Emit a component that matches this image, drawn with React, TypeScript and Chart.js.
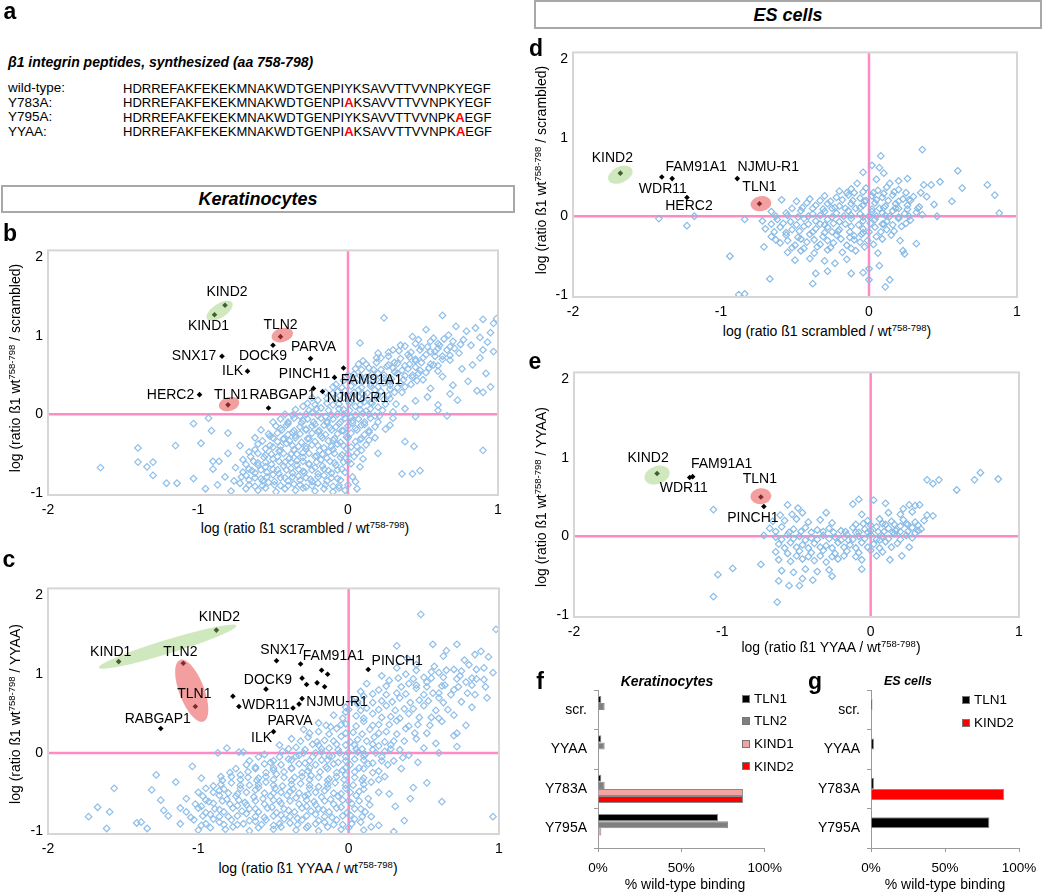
import React, { useEffect, useRef } from 'react';
import { Chart, registerables } from 'chart.js';
Chart.register(...registerables);

const FONT = '"Liberation Sans", Arial, Helvetica, sans-serif';
const PINK = '#ff8ac4';
const BLUE_K = '#8fbfea';
const BLUE_ES = '#88bbe6';
const GREEN_FILL = 'rgba(150,205,110,0.45)';
const RED_FILL = 'rgba(235,80,80,0.55)';

// ---------------- panel a ----------------
const peptideNames = ['wild-type:', 'Y783A:', 'Y795A:', 'YYAA:'];
const peptideSeqs = [
  'HDRREFAKFEKEKMNAKWDTGENPIYKSAVVTTVVNPKYEGF',
  'HDRREFAKFEKEKMNAKWDTGENPIAKSAVVTTVVNPKYEGF',
  'HDRREFAKFEKEKMNAKWDTGENPIYKSAVVTTVVNPKAEGF',
  'HDRREFAKFEKEKMNAKWDTGENPIAKSAVVTTVVNPKAEGF',
];
const mutatedPositions = [[], [25], [38], [25, 38]];

// ---------------- panel b (keratinocytes, wt/scrambled) ----------------
const bNames = ['KIND2', 'KIND1', 'TLN2', 'DOCK9', 'PARVA', 'SNX17', 'ILK', 'FAM91A1', 'PINCH1', 'HERC2', 'TLN1', 'RABGAP1', 'NJMU-R1', ''];
const bX = [-0.82, -0.89, -0.45, -0.5, -0.25, -0.84, -0.67, -0.03, -0.09, -0.99, -0.8, -0.53, -0.17, -0.23];
const bY = [1.39, 1.27, 0.99, 0.88, 0.71, 0.74, 0.55, 0.59, 0.47, 0.25, 0.12, 0.08, 0.29, 0.33];
const bCloud = [
  [0.24, 1.23], [0.63, 1.26], [0.9, 1.21], [0.99, 1.22], [0.97, 1.16],
  [0.52, 1.08], [0.72, 1.12], [0.79, 1.06], [0.85, 1.1], [0.95, 1.04],
  [0.43, 0.99], [0.57, 0.97], [0.67, 1.01], [0.77, 0.95], [0.88, 0.98], [0.93, 0.92],
  [0.08, 0.91], [0.35, 0.88], [0.49, 0.86], [0.6, 0.9], [0.71, 0.84], [0.82, 0.88], [0.9, 0.82],
  [0.2, 0.78], [0.3, 0.82], [0.4, 0.76], [0.55, 0.8], [0.63, 0.74], [0.74, 0.78], [0.88, 0.72], [0.97, 0.8],
  [0.1, 0.68], [0.22, 0.72], [0.31, 0.66], [0.45, 0.7], [0.55, 0.64], [0.68, 0.69], [0.83, 0.63],
  [0.07, 0.64], [0.05, 0.58], [0.17, 0.57], [0.26, 0.61], [0.36, 0.56], [0.45, 0.6], [0.6, 0.55], [0.76, 0.58], [0.92, 0.52],
  [0.0, 0.5], [0.12, 0.47], [0.2, 0.52], [0.29, 0.45], [0.38, 0.49], [0.5, 0.44], [0.63, 0.48], [0.8, 0.42],
  [-0.08, 0.38], [0.05, 0.41], [0.15, 0.36], [0.24, 0.4], [0.33, 0.34], [0.42, 0.38], [0.55, 0.33], [0.7, 0.37], [0.86, 0.3], [0.95, 0.35], [0.9, 0.28],
  [-0.15, 0.28], [-0.02, 0.3], [0.1, 0.26], [0.18, 0.31], [0.27, 0.24], [0.36, 0.28], [0.53, 0.22], [0.68, 0.26],
  [-0.2, 0.18], [-0.08, 0.2], [0.02, 0.16], [0.07, 0.22], [0.15, 0.15], [0.24, 0.19], [0.32, 0.13], [0.45, 0.17], [0.6, 0.12],
  [-0.3, 0.1], [-0.18, 0.08], [-0.1, 0.12], [-0.03, 0.06], [0.05, 0.1], [0.12, 0.04], [0.2, 0.09], [0.3, 0.03], [0.38, 0.07],
  [-0.42, 0.0], [-0.32, -0.02], [-0.24, 0.02], [-0.15, -0.03], [-0.07, 0.0], [0.02, -0.04], [0.1, 0.01], [0.18, -0.02], [0.3, -0.05], [0.45, -0.03],
  [-0.5, -0.1], [-0.4, -0.12], [-0.3, -0.08], [-0.22, -0.13], [-0.14, -0.09], [-0.06, -0.12], [0.03, -0.08], [0.11, -0.13], [0.2, -0.1], [0.28, -0.14],
  [-0.58, -0.2], [-0.45, -0.18], [-0.37, -0.23], [-0.28, -0.19], [-0.2, -0.22], [-0.12, -0.17], [-0.04, -0.21], [0.05, -0.18], [0.14, -0.23], [0.25, -0.19],
  [-0.62, -0.3], [-0.52, -0.28], [-0.43, -0.32], [-0.35, -0.27], [-0.27, -0.31], [-0.18, -0.28], [-0.1, -0.33], [-0.01, -0.29], [0.08, -0.32], [0.18, -0.3], [0.38, -0.35],
  [-0.72, -0.4], [-0.6, -0.38], [-0.5, -0.42], [-0.41, -0.37], [-0.33, -0.41], [-0.24, -0.39], [-0.16, -0.43], [-0.07, -0.38], [0.02, -0.42], [0.12, -0.39], [0.44, -0.41],
  [-0.8, -0.5], [-0.66, -0.48], [-0.55, -0.52], [-0.46, -0.47], [-0.38, -0.51], [-0.3, -0.49], [-0.21, -0.53], [-0.13, -0.48], [-0.04, -0.52], [0.06, -0.49], [0.2, -0.5],
  [-0.86, -0.6], [-0.7, -0.58], [-0.6, -0.62], [-0.5, -0.57], [-0.42, -0.61], [-0.34, -0.59], [-0.26, -0.63], [-0.18, -0.58], [-0.09, -0.62], [0.0, -0.6], [0.1, -0.57],
  [-0.9, -0.7], [-0.75, -0.68], [-0.64, -0.72], [-0.55, -0.67], [-0.47, -0.71], [-0.38, -0.69], [-0.3, -0.73], [-0.22, -0.68], [-0.13, -0.72], [-0.04, -0.7], [0.08, -0.67], [0.36, -0.76], [0.48, -0.72],
  [-0.82, -0.8], [-0.68, -0.78], [-0.58, -0.82], [-0.5, -0.77], [-0.42, -0.81], [-0.33, -0.79], [-0.25, -0.83], [-0.16, -0.78], [-0.07, -0.82], [0.03, -0.8], [0.43, -0.76],
  [-0.87, -0.9], [-0.72, -0.88], [-0.62, -0.92], [-0.53, -0.87], [-0.45, -0.91], [-0.36, -0.89], [-0.28, -0.93], [-0.2, -0.88], [-0.1, -0.92], [0.0, -0.9],
  [-0.78, -0.98], [-0.6, -0.97], [-0.48, -0.99], [-0.35, -0.97], [-0.22, -0.98], [-0.1, -0.99], [-0.02, -0.97],
  [-1.65, -0.68], [-1.4, -0.43], [-1.4, -0.61], [-1.34, -0.67], [-1.3, -0.61], [-1.3, -0.78], [-1.21, -0.88], [-1.15, -0.4],
  [-1.14, -0.88], [-1.03, -0.82], [-1.03, -0.12], [-0.98, -0.37], [-0.93, -0.05], [-0.91, -0.21], [-0.8, -0.24], [-0.95, -0.95], [-0.9, -0.6],
  [0.9, -0.46], [0.6, 0.05], [0.73, 0.18], [0.66, -0.02],
];
const bCore = [
  [0.47, 0.95], [0.55, 0.93], [0.64, 0.96], [0.7, 0.93],
  [0.38, 0.87], [0.45, 0.9], [0.53, 0.86], [0.61, 0.88], [0.68, 0.86], [0.75, 0.89],
  [0.27, 0.79], [0.34, 0.81], [0.42, 0.79], [0.48, 0.82], [0.58, 0.8], [0.66, 0.82],
  [0.19, 0.72], [0.27, 0.74], [0.35, 0.71], [0.41, 0.73], [0.5, 0.72], [0.58, 0.74], [0.63, 0.7],
  [0.12, 0.64], [0.19, 0.66], [0.27, 0.63], [0.33, 0.65], [0.41, 0.64], [0.49, 0.66], [0.57, 0.63],
  [0.09, 0.57], [0.14, 0.59], [0.22, 0.57], [0.3, 0.59], [0.4, 0.58], [0.48, 0.56], [0.54, 0.59],
  [0.04, 0.51], [0.08, 0.49], [0.16, 0.51], [0.24, 0.5], [0.33, 0.52], [0.43, 0.5], [0.47, 0.52],
  [-0.03, 0.43], [0.02, 0.44], [0.1, 0.42], [0.19, 0.44], [0.28, 0.42], [0.37, 0.44], [0.46, 0.43],
  [-0.1, 0.35], [-0.04, 0.34], [0.02, 0.36], [0.09, 0.34], [0.2, 0.35], [0.28, 0.37], [0.38, 0.35],
  [-0.1, 0.27], [-0.07, 0.29], [0.04, 0.28], [0.13, 0.27], [0.22, 0.29], [0.31, 0.28],
  [-0.24, 0.21], [-0.14, 0.2], [-0.03, 0.21], [0.1, 0.2], [0.19, 0.21], [0.28, 0.2],
  [-0.27, 0.14], [-0.22, 0.12], [-0.14, 0.14], [-0.06, 0.13], [0.01, 0.14], [0.08, 0.12], [0.16, 0.14], [0.25, 0.13],
  [-0.35, 0.06], [-0.26, 0.05], [-0.21, 0.07], [-0.13, 0.05], [-0.06, 0.07], [0.01, 0.05], [0.08, 0.06], [0.15, 0.07], [0.23, 0.05],
  [-0.37, -0.01], [-0.28, 0.0], [-0.2, -0.02], [-0.11, -0.01], [-0.03, 0.0], [0.05, -0.01], [0.14, 0.0], [0.21, -0.02],
  [-0.45, -0.06], [-0.36, -0.05], [-0.27, -0.06], [-0.18, -0.05], [-0.1, -0.06], [-0.02, -0.05], [0.07, -0.06], [0.15, -0.05],
  [-0.48, -0.15], [-0.41, -0.14], [-0.32, -0.16], [-0.24, -0.15], [-0.16, -0.14], [-0.08, -0.16], [0.0, -0.15], [0.09, -0.14], [0.18, -0.16],
  [-0.53, -0.25], [-0.47, -0.24], [-0.4, -0.26], [-0.32, -0.25], [-0.24, -0.24], [-0.15, -0.26], [-0.07, -0.25], [0.02, -0.24], [0.11, -0.26],
  [-0.57, -0.34], [-0.47, -0.35], [-0.39, -0.34], [-0.31, -0.36], [-0.22, -0.35], [-0.13, -0.34], [-0.05, -0.36], [0.05, -0.35], [0.14, -0.33],
  [-0.62, -0.45], [-0.55, -0.44], [-0.45, -0.46], [-0.36, -0.45], [-0.28, -0.44], [-0.19, -0.46], [-0.1, -0.45], [-0.01, -0.44], [0.09, -0.46],
  [-0.65, -0.54], [-0.56, -0.55], [-0.47, -0.54], [-0.39, -0.56], [-0.3, -0.55], [-0.22, -0.54], [-0.14, -0.56], [-0.05, -0.55], [0.04, -0.54],
  [-0.68, -0.64], [-0.6, -0.65], [-0.51, -0.64], [-0.43, -0.66], [-0.34, -0.65], [-0.26, -0.64], [-0.17, -0.66], [-0.08, -0.65], [0.02, -0.63],
  [-0.7, -0.74], [-0.62, -0.75], [-0.54, -0.74], [-0.46, -0.76], [-0.37, -0.75], [-0.29, -0.74], [-0.2, -0.76], [-0.11, -0.75], [-0.02, -0.74],
  [-0.76, -0.85], [-0.66, -0.84], [-0.57, -0.85], [-0.49, -0.86], [-0.4, -0.85], [-0.32, -0.84], [-0.24, -0.86], [-0.14, -0.85], [-0.05, -0.84], [0.05, -0.86],
  [-0.68, -0.95], [-0.55, -0.94], [-0.42, -0.95], [-0.3, -0.94], [-0.16, -0.95], [-0.06, -0.94], [0.06, -0.95],
];
const bDense = [
  [-0.4, -0.1], [-0.31, -0.11], [-0.23, -0.1], [-0.14, -0.11], [-0.05, -0.1], [0.03, -0.11], [0.11, -0.1],
  [-0.44, -0.2], [-0.36, -0.21], [-0.28, -0.2], [-0.19, -0.21], [-0.11, -0.2], [-0.03, -0.21], [0.06, -0.2], [0.14, -0.21],
  [-0.5, -0.3], [-0.43, -0.31], [-0.35, -0.3], [-0.26, -0.31], [-0.17, -0.3], [-0.09, -0.31], [0.0, -0.3], [0.09, -0.31],
  [-0.52, -0.4], [-0.45, -0.41], [-0.37, -0.4], [-0.28, -0.41], [-0.2, -0.4], [-0.11, -0.41], [-0.03, -0.4], [0.06, -0.41],
  [-0.6, -0.5], [-0.51, -0.51], [-0.43, -0.5], [-0.34, -0.51], [-0.26, -0.5], [-0.17, -0.51], [-0.09, -0.5], [0.0, -0.51],
  [-0.63, -0.6], [-0.55, -0.61], [-0.46, -0.6], [-0.38, -0.61], [-0.3, -0.6], [-0.21, -0.61], [-0.12, -0.6], [-0.03, -0.61],
  [-0.66, -0.7], [-0.58, -0.71], [-0.5, -0.7], [-0.41, -0.71], [-0.33, -0.7], [-0.24, -0.71], [-0.16, -0.7], [-0.07, -0.71],
  [-0.71, -0.8], [-0.62, -0.81], [-0.54, -0.8], [-0.45, -0.81], [-0.37, -0.8], [-0.28, -0.81], [-0.2, -0.8], [-0.11, -0.81],
  [-0.66, -0.9], [-0.57, -0.91], [-0.49, -0.9], [-0.4, -0.91], [-0.32, -0.9], [-0.24, -0.91], [-0.15, -0.9], [-0.06, -0.91],
  [0.0, 0.24], [0.07, 0.31], [0.15, 0.39], [0.24, 0.46], [0.31, 0.54], [0.38, 0.62], [0.45, 0.68], [0.52, 0.76], [0.6, 0.84],
  [0.11, 0.16], [0.2, 0.24], [0.28, 0.32], [0.35, 0.4], [0.43, 0.47], [0.52, 0.53], [0.6, 0.62], [0.68, 0.75],
];

// ---------------- panel c (keratinocytes, wt/YYAA) ----------------
const cNames = ['KIND2', 'KIND1', 'TLN2', 'TLN1', 'RABGAP1', 'SNX17', 'FAM91A1', 'PINCH1', 'DOCK9', 'WDR11', 'NJMU-R1', 'PARVA', 'ILK', '', '', '', '', '', '', '', ''];
const cX = [-0.88, -1.53, -1.1, -1.02, -1.25, -0.48, -0.32, 0.13, -0.55, -0.73, -0.31, -0.37, -0.5, -0.18, -0.14, -0.31, -0.28, -0.21, -0.16, -0.77, -0.33];
const cY = [1.56, 1.16, 1.14, 0.59, 0.31, 1.17, 1.13, 1.06, 0.81, 0.59, 0.69, 0.57, 0.27, 1.05, 1.0, 0.95, 0.87, 0.89, 0.84, 0.72, 0.62];
const cCloud = [
  [0.98, 1.57], [0.48, 1.76],
  [0.32, 1.36], [0.56, 1.38], [0.72, 1.38], [0.88, 1.29], [0.65, 1.3],
  [0.39, 1.2], [0.63, 1.23], [0.77, 1.18], [0.84, 1.25], [0.93, 1.22],
  [0.32, 1.08], [0.45, 1.12], [0.57, 1.1], [0.7, 1.06], [0.8, 1.12], [0.9, 1.08],
  [0.22, 0.98], [0.38, 1.0], [0.5, 0.96], [0.6, 1.02], [0.74, 0.98], [0.85, 0.94], [0.96, 1.02],
  [0.12, 0.88], [0.27, 0.92], [0.4, 0.88], [0.52, 0.9], [0.64, 0.86], [0.78, 0.9], [0.91, 0.84],
  [0.08, 0.78], [0.2, 0.8], [0.32, 0.76], [0.45, 0.82], [0.56, 0.76], [0.7, 0.8], [0.84, 0.74],
  [0.02, 0.68], [0.1, 0.72], [0.22, 0.66], [0.34, 0.7], [0.47, 0.67], [0.6, 0.7], [0.75, 0.65], [0.92, 0.7],
  [-0.02, 0.58], [0.06, 0.62], [0.12, 0.57], [0.25, 0.6], [0.37, 0.56], [0.5, 0.6], [0.66, 0.55], [0.82, 0.58],
  [-0.1, 0.48], [-0.02, 0.52], [0.05, 0.47], [0.16, 0.5], [0.28, 0.46], [0.4, 0.5], [0.55, 0.45], [0.7, 0.48],
  [-0.2, 0.38], [-0.12, 0.33], [-0.02, 0.37], [0.1, 0.4], [0.2, 0.36], [0.32, 0.41], [0.46, 0.36], [0.62, 0.4], [0.78, 0.35],
  [-0.3, 0.3], [-0.2, 0.27], [-0.08, 0.31], [0.03, 0.26], [0.14, 0.3], [0.25, 0.27], [0.38, 0.31], [0.52, 0.25], [0.7, 0.22], [0.72, 0.25],
  [-0.38, 0.18], [-0.27, 0.2], [-0.16, 0.16], [-0.05, 0.21], [0.06, 0.17], [0.17, 0.2], [0.3, 0.15], [0.45, 0.18], [0.58, 0.12],
  [-0.46, 0.1], [-0.35, 0.07], [-0.24, 0.11], [-0.13, 0.06], [-0.02, 0.1], [0.09, 0.05], [0.2, 0.09], [0.34, 0.04], [0.5, 0.06], [0.72, 0.08],
  [-0.7, 0.01], [-0.56, -0.02], [-0.44, 0.02], [-0.33, -0.03], [-0.22, 0.0], [-0.11, -0.04], [0.0, 0.01], [0.11, -0.02], [0.24, 0.02], [0.4, -0.03], [0.6, 0.0],
  [-0.81, 0.06], [-0.87, 0.0], [-0.66, -0.1], [-0.52, -0.12], [-0.4, -0.08], [-0.29, -0.13], [-0.18, -0.09], [-0.07, -0.12], [0.04, -0.08], [0.16, -0.13], [0.3, -0.1], [0.46, -0.12],
  [-1.04, -0.17], [-0.75, -0.2], [-0.62, -0.18], [-0.5, -0.22], [-0.38, -0.19], [-0.27, -0.23], [-0.15, -0.18], [-0.04, -0.22], [0.07, -0.19], [0.2, -0.23], [0.35, -0.2],
  [-0.98, -0.32], [-0.85, -0.3], [-0.72, -0.28], [-0.6, -0.32], [-0.48, -0.27], [-0.36, -0.31], [-0.25, -0.29], [-0.13, -0.33], [-0.02, -0.28], [0.1, -0.32], [0.24, -0.3],
  [-1.15, -0.37], [-0.9, -0.42], [-0.78, -0.38], [-0.66, -0.41], [-0.55, -0.37], [-0.44, -0.42], [-0.32, -0.39], [-0.2, -0.43], [-0.09, -0.38], [0.03, -0.41], [0.15, -0.37], [0.43, -0.44], [0.52, -0.38],
  [-1.0, -0.5], [-0.86, -0.48], [-0.74, -0.52], [-0.62, -0.47], [-0.5, -0.51], [-0.39, -0.49], [-0.27, -0.53], [-0.16, -0.48], [-0.05, -0.52], [0.07, -0.49], [0.2, -0.5], [0.27, -0.52],
  [-1.08, -0.58], [-0.93, -0.62], [-0.81, -0.59], [-0.69, -0.63], [-0.57, -0.58], [-0.46, -0.61], [-0.35, -0.57], [-0.23, -0.62], [-0.12, -0.59], [0.0, -0.61], [0.13, -0.58], [0.62, -0.62], [0.41, -0.58],
  [-1.23, -0.73], [-1.12, -0.7], [-0.98, -0.68], [-0.86, -0.72], [-0.74, -0.67], [-0.62, -0.71], [-0.51, -0.69], [-0.4, -0.73], [-0.28, -0.68], [-0.17, -0.72], [-0.05, -0.69], [0.08, -0.71], [0.31, -0.68],
  [-1.2, -0.8], [-1.05, -0.82], [-0.92, -0.78], [-0.8, -0.81], [-0.68, -0.77], [-0.56, -0.82], [-0.45, -0.79], [-0.34, -0.83], [-0.22, -0.78], [-0.11, -0.82], [0.01, -0.79], [0.15, -0.81], [0.96, -0.81],
  [-1.38, -0.88], [-1.41, -0.89], [-1.12, -0.9], [-0.98, -0.92], [-0.86, -0.88], [-0.74, -0.91], [-0.62, -0.87], [-0.5, -0.92], [-0.39, -0.89], [-0.27, -0.93], [-0.16, -0.88], [-0.04, -0.91], [0.08, -0.88], [0.2, -0.92], [0.37, -0.86],
  [-1.34, -0.96], [-1.0, -0.98], [-0.82, -0.97], [-0.66, -0.99], [-0.5, -0.97], [-0.35, -0.98], [-0.2, -0.99], [-0.05, -0.97], [0.1, -0.98], [0.3, -1.0],
  [-1.73, -0.81], [-1.67, -0.69], [-1.61, -0.96], [-1.59, -0.75], [-1.56, -0.45], [-1.31, -0.47], [-1.28, -0.28], [-1.25, -0.6], [-0.73, 0.01],
];
const cCore = [
  [0.45, 1.05], [0.55, 1.03], [0.65, 1.05], [0.75, 1.04], [0.85, 1.06],
  [0.33, 0.95], [0.43, 0.94], [0.55, 0.95], [0.63, 0.96], [0.72, 0.94], [0.82, 0.95], [0.9, 0.93],
  [0.25, 0.85], [0.35, 0.84], [0.45, 0.86], [0.52, 0.84], [0.62, 0.85], [0.73, 0.84], [0.82, 0.86],
  [0.16, 0.75], [0.25, 0.74], [0.38, 0.75], [0.5, 0.74], [0.6, 0.76], [0.68, 0.74], [0.79, 0.76],
  [0.06, 0.65], [0.16, 0.64], [0.29, 0.65], [0.41, 0.64], [0.53, 0.66], [0.63, 0.64],
  [0.0, 0.55], [0.08, 0.54], [0.2, 0.55], [0.31, 0.54], [0.43, 0.56], [0.58, 0.54],
  [-0.04, 0.44], [0.1, 0.44], [0.22, 0.45], [0.34, 0.44], [0.47, 0.45], [0.6, 0.44],
  [-0.15, 0.35], [-0.05, 0.36], [0.05, 0.34], [0.16, 0.35], [0.27, 0.36], [0.4, 0.34], [0.54, 0.35],
  [-0.26, 0.25], [-0.13, 0.24], [-0.02, 0.25], [0.09, 0.24], [0.2, 0.25], [0.32, 0.24], [0.44, 0.25],
  [-0.32, 0.15], [-0.21, 0.14], [-0.1, 0.15], [0.01, 0.14], [0.12, 0.15], [0.24, 0.14], [0.37, 0.15],
  [-0.4, 0.05], [-0.29, 0.04], [-0.18, 0.05], [-0.07, 0.04], [0.05, 0.05], [0.16, 0.04], [0.28, 0.05],
  [-0.6, -0.05], [-0.46, -0.05], [-0.35, -0.04], [-0.24, -0.05], [-0.13, -0.04], [-0.02, -0.05], [0.1, -0.04], [0.22, -0.05], [0.36, -0.06],
  [-0.68, -0.15], [-0.56, -0.14], [-0.45, -0.15], [-0.33, -0.14], [-0.22, -0.15], [-0.1, -0.14], [0.01, -0.15], [0.13, -0.14], [0.26, -0.15],
  [-0.79, -0.25], [-0.67, -0.24], [-0.55, -0.25], [-0.43, -0.24], [-0.31, -0.25], [-0.19, -0.24], [-0.08, -0.25], [0.04, -0.24], [0.16, -0.25],
  [-0.84, -0.35], [-0.72, -0.34], [-0.61, -0.35], [-0.5, -0.34], [-0.38, -0.35], [-0.26, -0.34], [-0.14, -0.35], [-0.03, -0.34], [0.09, -0.35], [0.2, -0.34],
  [-0.95, -0.45], [-0.83, -0.46], [-0.72, -0.45], [-0.6, -0.44], [-0.49, -0.45], [-0.37, -0.46], [-0.26, -0.45], [-0.14, -0.44], [-0.02, -0.45], [0.1, -0.46],
  [-0.97, -0.55], [-0.86, -0.54], [-0.75, -0.55], [-0.63, -0.56], [-0.52, -0.55], [-0.41, -0.54], [-0.29, -0.55], [-0.18, -0.56], [-0.07, -0.55], [0.05, -0.54],
  [-1.02, -0.65], [-0.9, -0.64], [-0.79, -0.65], [-0.68, -0.66], [-0.56, -0.65], [-0.45, -0.64], [-0.33, -0.65], [-0.22, -0.66], [-0.1, -0.65], [0.02, -0.64], [0.14, -0.66],
  [-1.08, -0.75], [-0.95, -0.76], [-0.83, -0.75], [-0.71, -0.74], [-0.6, -0.75], [-0.48, -0.76], [-0.36, -0.75], [-0.25, -0.74], [-0.13, -0.75], [-0.01, -0.76], [0.11, -0.75],
  [-1.03, -0.85], [-0.9, -0.84], [-0.78, -0.85], [-0.66, -0.86], [-0.55, -0.85], [-0.43, -0.84], [-0.31, -0.85], [-0.2, -0.86], [-0.08, -0.85], [0.04, -0.84],
  [-0.92, -0.95], [-0.77, -0.94], [-0.6, -0.95], [-0.45, -0.94], [-0.28, -0.95], [-0.14, -0.94], [0.0, -0.95], [0.15, -0.94],
];
const cDense = [
  [-0.78, -0.3], [-0.67, -0.31], [-0.55, -0.3], [-0.43, -0.31], [-0.31, -0.3], [-0.2, -0.31], [-0.08, -0.3], [0.04, -0.31],
  [-0.85, -0.4], [-0.72, -0.41], [-0.6, -0.4], [-0.5, -0.41], [-0.38, -0.4], [-0.26, -0.41], [-0.14, -0.4], [-0.02, -0.41], [0.1, -0.4],
  [-0.9, -0.5], [-0.8, -0.51], [-0.68, -0.5], [-0.56, -0.51], [-0.45, -0.5], [-0.33, -0.51], [-0.22, -0.5], [-0.1, -0.51], [0.01, -0.5],
  [-0.95, -0.6], [-0.84, -0.61], [-0.73, -0.6], [-0.62, -0.61], [-0.5, -0.6], [-0.39, -0.61], [-0.28, -0.6], [-0.16, -0.61], [-0.04, -0.6], [0.07, -0.61],
  [-1.0, -0.7], [-0.89, -0.71], [-0.77, -0.7], [-0.66, -0.71], [-0.54, -0.7], [-0.43, -0.71], [-0.31, -0.7], [-0.2, -0.71], [-0.08, -0.7], [0.04, -0.71],
  [-0.97, -0.8], [-0.86, -0.81], [-0.74, -0.8], [-0.62, -0.81], [-0.5, -0.8], [-0.39, -0.81], [-0.28, -0.8], [-0.16, -0.81], [-0.04, -0.8], [0.09, -0.81],
  [-0.95, -0.9], [-0.83, -0.91], [-0.7, -0.9], [-0.58, -0.91], [-0.46, -0.9], [-0.34, -0.91], [-0.22, -0.9], [-0.1, -0.91], [0.02, -0.9],
  [-0.62, -0.2], [-0.5, -0.19], [-0.38, -0.2], [-0.26, -0.19], [-0.14, -0.2], [-0.02, -0.19], [0.1, -0.2],
  [-0.5, -0.1], [-0.38, -0.09], [-0.26, -0.1], [-0.14, -0.09], [-0.02, -0.1], [0.1, -0.09], [0.22, -0.1],
  [-0.3, 0.0], [-0.18, 0.01], [-0.06, 0.0], [0.06, 0.01], [0.18, 0.0],
  [-0.2, 0.1], [-0.08, 0.11], [0.04, 0.1], [0.16, 0.11], [0.28, 0.1],
];

// ---------------- panel d (ES cells, wt/scrambled) ----------------
const dNames = ['KIND2', 'WDR11', 'FAM91A1', 'HERC2', 'NJMU-R1', 'TLN1'];
const dX = [-1.68, -1.4, -1.33, -1.23, -0.89, -0.74];
const dY = [0.55, 0.5, 0.48, 0.24, 0.48, 0.16];
const dCloud = [
  [0.36, 0.85], [0.08, 0.77], [0.02, 0.65], [0.07, 0.62], [-0.04, 0.56], [0.6, 0.58], [0.1, 0.55],
  [0.2, 0.45], [0.26, 0.48], [0.37, 0.4], [0.42, 0.4], [0.48, 0.44], [0.05, 0.47], [-0.08, 0.42], [0.14, 0.42], [0.8, 0.4],
  [-0.2, 0.32], [-0.12, 0.35], [-0.02, 0.36], [0.06, 0.33], [0.12, 0.37], [0.2, 0.34], [0.63, 0.36],
  [-0.4, 0.22], [-0.3, 0.26], [-0.22, 0.24], [-0.14, 0.27], [-0.06, 0.23], [0.02, 0.26], [0.09, 0.24], [0.16, 0.27], [0.23, 0.22], [0.3, 0.25], [0.39, 0.25], [0.85, 0.27],
  [-0.59, 0.21], [-0.49, 0.19], [-0.42, 0.17], [0.56, 0.19],
  [-0.36, 0.14], [-0.28, 0.16], [-0.2, 0.13], [-0.12, 0.16], [-0.04, 0.14], [0.04, 0.17], [0.11, 0.13], [0.18, 0.16], [0.26, 0.14], [0.34, 0.12], [0.44, 0.15],
  [-0.66, 0.06], [-0.56, 0.04], [-0.46, 0.07], [-0.38, 0.03], [-0.3, 0.06], [-0.22, 0.04], [-0.14, 0.07], [-0.06, 0.03], [0.02, 0.06], [0.09, 0.04], [0.16, 0.07], [0.24, 0.03], [0.32, 0.05], [0.46, 0.0], [0.88, 0.04],
  [-0.72, -0.06], [-0.62, -0.04], [-0.53, -0.07], [-0.44, -0.03], [-0.36, -0.06], [-0.28, -0.04], [-0.2, -0.07], [-0.12, -0.03], [-0.04, -0.06], [0.04, -0.04], [0.12, -0.07], [0.2, -0.03], [0.28, -0.05],
  [-0.7, -0.16], [-0.6, -0.14], [-0.52, -0.17], [-0.44, -0.13], [-0.36, -0.16], [-0.28, -0.14], [-0.2, -0.17], [-0.12, -0.13], [-0.04, -0.16], [0.04, -0.14], [0.12, -0.17], [0.22, -0.13],
  [-0.66, -0.26], [-0.56, -0.24], [-0.48, -0.27], [-0.4, -0.23], [-0.31, -0.26], [-0.22, -0.24], [-0.13, -0.27], [-0.05, -0.23], [0.05, -0.26], [0.15, -0.24],
  [-0.71, -0.39], [-0.6, -0.34], [-0.5, -0.37], [-0.42, -0.33], [-0.33, -0.36], [-0.24, -0.34], [-0.15, -0.37], [-0.06, -0.33], [0.03, -0.36], [0.21, -0.31], [0.32, -0.35],
  [-0.55, -0.46], [-0.46, -0.44], [-0.37, -0.47], [-0.28, -0.43], [-0.18, -0.46], [-0.09, -0.44], [0.06, -0.47], [0.23, -0.44], [0.24, -0.48], [-0.94, -0.51],
  [-0.5, -0.56], [-0.4, -0.54], [-0.3, -0.57], [-0.23, -0.6], [-0.15, -0.55], [0.07, -0.63],
  [-0.67, -0.8], [-0.38, -0.86], [-0.36, -0.73], [-0.12, -0.73], [-0.04, -0.72], [0.0, -0.67], [0.0, -0.81], [0.11, -0.9], [0.14, -0.81], [-0.28, -0.7],
  [-0.88, -1.0], [-0.84, -0.99],
  [-1.42, -0.03], [-1.23, -0.12], [-1.18, 0.0], [-0.84, -0.04],
  [-0.25, 0.1], [-0.17, 0.0], [-0.09, 0.1], [0.0, 0.0], [0.07, 0.1], [0.14, 0.0], [-0.33, -0.1], [-0.25, -0.2], [-0.1, -0.25], [0.0, -0.2],
  [0.1, -0.1], [0.2, 0.1], [0.28, 0.2], [0.35, 0.3], [-0.02, 0.2], [-0.15, 0.3],
];
const dCore = [
  [-0.1, 0.3], [-0.04, 0.31], [0.03, 0.3], [0.1, 0.29], [0.17, 0.31], [0.25, 0.3],
  [-0.33, 0.2], [-0.26, 0.19], [-0.18, 0.21], [-0.11, 0.2], [-0.03, 0.19], [0.05, 0.21], [0.13, 0.2], [0.2, 0.19], [0.27, 0.21],
  [-0.52, 0.1], [-0.45, 0.11], [-0.38, 0.1], [-0.31, 0.09], [-0.23, 0.11], [-0.16, 0.1], [-0.06, 0.11], [0.02, 0.09], [0.1, 0.11], [0.18, 0.1], [0.26, 0.09], [0.33, 0.1],
  [-0.63, 0.0], [-0.55, 0.01], [-0.48, -0.01], [-0.41, 0.0], [-0.33, 0.01], [-0.25, -0.01], [-0.12, 0.01], [-0.04, -0.01], [0.05, 0.0], [0.11, 0.01], [0.2, -0.01], [0.27, 0.0], [0.36, 0.02],
  [-0.66, -0.1], [-0.58, -0.09], [-0.49, -0.11], [-0.41, -0.1], [-0.3, -0.11], [-0.24, -0.09], [-0.16, -0.1], [-0.07, -0.11], [0.01, -0.09], [0.09, -0.1], [0.16, -0.11], [0.25, -0.09],
  [-0.64, -0.2], [-0.56, -0.21], [-0.47, -0.19], [-0.38, -0.2], [-0.3, -0.21], [-0.21, -0.19], [-0.13, -0.2], [-0.04, -0.21], [0.08, -0.2], [0.17, -0.19],
  [-0.63, -0.3], [-0.55, -0.31], [-0.46, -0.29], [-0.37, -0.3], [-0.28, -0.31], [-0.19, -0.29], [-0.1, -0.3], [-0.01, -0.31], [0.09, -0.29],
  [-0.52, -0.4], [-0.44, -0.41], [-0.35, -0.39], [-0.26, -0.4], [-0.12, -0.41], [-0.03, -0.39],
];

// ---------------- panel e (ES cells, wt/YYAA) ----------------
const eNames = ['KIND2', 'WDR11', 'FAM91A1', 'TLN1', 'PINCH1'];
const eX = [-1.44, -1.22, -1.2, -0.74, -0.72];
const eY = [0.8, 0.75, 0.76, 0.5, 0.38];
const eCloud = [
  [0.38, 0.72], [0.42, 0.67], [0.46, 0.72], [0.58, 0.59], [0.7, 0.72], [0.74, 0.81], [0.86, 0.73],
  [-0.56, 0.4], [-0.49, 0.36], [-0.12, 0.41], [-0.08, 0.47], [0.02, 0.46], [0.1, 0.42], [0.22, 0.35], [0.26, 0.4], [0.3, 0.39], [0.33, 0.4],
  [-0.61, 0.27], [-0.53, 0.28], [-0.46, 0.3], [-0.06, 0.28], [0.12, 0.3], [0.2, 0.28], [0.28, 0.31], [0.38, 0.27], [0.42, 0.26], [-0.3, 0.3],
  [-0.66, 0.19], [-0.58, 0.2], [-0.5, 0.22], [-0.42, 0.18], [-0.34, 0.21], [-0.26, 0.17], [-0.02, 0.2], [0.06, 0.22], [0.14, 0.19], [0.22, 0.21], [0.3, 0.18], [0.36, 0.2],
  [-0.68, 0.1], [-0.6, 0.12], [-0.52, 0.09], [-0.44, 0.11], [-0.36, 0.08], [-0.28, 0.1], [-0.2, 0.07], [-0.12, 0.11], [-0.04, 0.09], [0.04, 0.12], [0.12, 0.1], [0.2, 0.13], [0.28, 0.11], [0.34, 0.09],
  [-0.72, 0.01], [-0.64, -0.01], [-0.56, 0.02], [-0.48, 0.0], [-0.4, -0.02], [-0.32, 0.01], [-0.24, -0.01], [-0.16, 0.02], [-0.08, 0.0], [0.0, 0.02], [0.08, 0.0], [0.16, 0.03], [0.24, 0.01], [0.3, 0.04],
  [-0.62, -0.1], [-0.54, -0.08], [-0.46, -0.11], [-0.38, -0.09], [-0.3, -0.12], [-0.22, -0.08], [-0.14, -0.11], [-0.06, -0.08], [0.02, -0.1], [0.1, -0.07], [0.18, -0.09], [0.26, -0.14],
  [-0.64, -0.2], [-0.56, -0.22], [-0.48, -0.19], [-0.4, -0.21], [-0.32, -0.18], [-0.24, -0.22], [-0.16, -0.19], [-0.08, -0.21], [0.0, -0.18], [0.08, -0.2], [0.21, -0.25],
  [-0.74, -0.36], [-0.62, -0.3], [-0.54, -0.32], [-0.46, -0.29], [-0.38, -0.31], [-0.3, -0.33], [-0.22, -0.29], [-0.06, -0.3], [0.13, -0.3],
  [-0.93, -0.41], [-1.03, -0.49], [-0.6, -0.44], [-0.52, -0.46], [-0.44, -0.42], [-0.36, -0.45], [-0.28, -0.43], [-0.06, -0.42],
  [-0.55, -0.63], [-0.48, -0.63], [-0.46, -0.54], [-0.39, -0.56], [-0.26, -0.51], [-0.62, -0.57],
  [-1.06, 0.34], [-1.06, -0.77], [-0.63, -0.84],
  [-0.02, 0.05], [0.05, 0.06], [0.1, 0.15], [-0.1, 0.05], [0.15, 0.05], [0.2, 0.06], [-0.15, -0.05], [0.06, -0.05], [0.25, 0.15],
];
const eCore = [
  [-0.1, 0.15], [-0.05, 0.16], [0.0, 0.14], [0.08, 0.16], [0.16, 0.15], [0.24, 0.16], [0.32, 0.14],
  [-0.64, 0.06], [-0.55, 0.05], [-0.47, 0.06], [-0.4, 0.05], [-0.32, 0.06], [-0.25, 0.05], [-0.17, 0.06], [-0.08, 0.05], [0.0, 0.07], [0.09, 0.06], [0.17, 0.07], [0.25, 0.06], [0.32, 0.07],
  [-0.6, -0.04], [-0.52, -0.03], [-0.44, -0.05], [-0.36, -0.04], [-0.28, -0.03], [-0.2, -0.05], [-0.12, -0.04], [-0.04, -0.03], [0.04, -0.04], [0.12, -0.03], [0.2, -0.04], [0.28, -0.02],
  [-0.58, -0.15], [-0.5, -0.14], [-0.42, -0.15], [-0.34, -0.14], [-0.26, -0.15], [-0.18, -0.14], [-0.1, -0.15], [-0.02, -0.14], [0.06, -0.15], [0.14, -0.14],
  [-0.5, -0.25], [-0.42, -0.26], [-0.34, -0.25], [-0.26, -0.26], [-0.18, -0.25], [-0.1, -0.26], [0.04, -0.25],
];

// ---------------- panels f, g (bars, % wild-type binding) ----------------
const barCategories = ['scr.', 'YYAA', 'Y783A', 'Y795A'];
const keraTLN1 = [2, 2, 2, 72];
const keraTLN2 = [4, 4, 4, 78];
const keraKIND1 = [0, 0, 87, 2];
const keraKIND2 = [0, 0, 87, 0];
const esTLN1 = [1, 2, 2, 80];
const esKIND2 = [0, 0, 90, 0];

// ---------------- layout (label offsets in px, ellipse annotations) ----------------
const bOffsets = [[2, -13], [-6, 11], [0, -11], [-10, 11], [3, -11], [-28, 0], [-15, 0], [28, 12], [-30, -3], [-29, 0], [3, -10], [14, -13], [35, 7], [0, 0]];
const cOffsets = [[3, -13], [-8, -9], [-3, -11], [-1, -12], [-3, -9], [6, -11], [33, -8], [29, -8], [2, -9], [27, -1], [35, 4], [-3, 13], [-12, 6]];
const dOffsets = [[-8, -15], [1, 12], [24, -11], [2, 9], [31, -11], [0, -17]];
const eOffsets = [[-9, -15], [-6, 11], [29, -13], [-1, -18], [-11, 12]];

type Ell = { x: number; y: number; rx: number; ry: number; rot: number; fill: string };
const bEllipses: Ell[] = [
  { x: -0.856, y: 1.32, rx: 15, ry: 7, rot: -33, fill: GREEN_FILL },
  { x: -0.438, y: 1.01, rx: 11, ry: 7, rot: -15, fill: RED_FILL },
  { x: -0.793, y: 0.13, rx: 10.5, ry: 7, rot: -15, fill: RED_FILL },
];
const cEllipses: Ell[] = [
  { x: -1.204, y: 1.35, rx: 72, ry: 7, rot: -17, fill: GREEN_FILL },
  { x: -1.044, y: 0.79, rx: 33, ry: 12.5, rot: 69, fill: RED_FILL },
];
const dEllipses: Ell[] = [
  { x: -1.68, y: 0.53, rx: 13, ry: 8, rot: -25, fill: GREEN_FILL },
  { x: -0.73, y: 0.16, rx: 10.5, ry: 7.5, rot: -10, fill: RED_FILL },
];
const eEllipses: Ell[] = [
  { x: -1.44, y: 0.78, rx: 13, ry: 9, rot: -20, fill: GREEN_FILL },
  { x: -0.74, y: 0.51, rx: 10.5, ry: 8, rot: -5, fill: RED_FILL },
];

interface ScatterProps {
  left: number; top: number; width: number; height: number;
  cloud: number[][]; cloudColor: string;
  names: string[]; xs: number[]; ys: number[];
  offsets: number[][]; ellipses: Ell[];
}

function ScatterPanel(p: ScatterProps) {
  const ref = useRef<HTMLCanvasElement>(null);
  useEffect(() => {
    const tickFont = { family: FONT, size: 14 };
    const overlay = {
      id: 'overlay',
      beforeDatasetsDraw(chart: any) {
        const { ctx, chartArea: a, scales } = chart;
        const x0 = scales.x.getPixelForValue(0);
        const y0 = scales.y.getPixelForValue(0);
        ctx.save();
        ctx.strokeStyle = PINK;
        ctx.lineWidth = 2.5;
        ctx.beginPath();
        ctx.moveTo(x0, a.top); ctx.lineTo(x0, a.bottom);
        ctx.moveTo(a.left, y0); ctx.lineTo(a.right, y0);
        ctx.stroke();
        ctx.restore();
      },
      afterDatasetsDraw(chart: any) {
        const { ctx, chartArea: a, scales } = chart;
        ctx.save();
        for (const e of p.ellipses) {
          ctx.fillStyle = e.fill;
          ctx.beginPath();
          ctx.ellipse(scales.x.getPixelForValue(e.x), scales.y.getPixelForValue(e.y), e.rx, e.ry, (e.rot * Math.PI) / 180, 0, Math.PI * 2);
          ctx.fill();
        }
        ctx.fillStyle = '#000';
        ctx.font = `14px ${FONT}`;
        ctx.textAlign = 'center';
        ctx.textBaseline = 'middle';
        p.names.forEach((n, i) => {
          if (!n) return;
          const o = p.offsets[i];
          ctx.fillText(n, scales.x.getPixelForValue(p.xs[i]) + o[0], scales.y.getPixelForValue(p.ys[i]) + o[1]);
        });
        ctx.strokeStyle = '#d6d6d6';
        ctx.lineWidth = 2;
        ctx.strokeRect(a.left, a.top, a.right - a.left, a.bottom - a.top);
        ctx.restore();
      },
    };
    const chart = new Chart(ref.current as HTMLCanvasElement, {
      type: 'scatter',
      data: {
        datasets: [
          {
            data: p.xs.map((x, i) => ({ x, y: p.ys[i] })),
            pointStyle: 'rectRot', pointRadius: 2.8, backgroundColor: '#000', borderColor: '#000', borderWidth: 0,
          },
          {
            data: p.cloud.map(([x, y]) => ({ x, y })),
            pointStyle: 'rectRot', pointRadius: 3.3, backgroundColor: 'rgba(0,0,0,0)', borderColor: p.cloudColor, borderWidth: 1.2,
          },
        ],
      },
      options: {
        responsive: false,
        animation: false,
        devicePixelRatio: 1,
        layout: { padding: { top: 8, right: 14, left: 0, bottom: 0 } },
        plugins: { legend: { display: false }, tooltip: { enabled: false } },
        events: [],
        scales: {
          x: {
            type: 'linear', min: -2, max: 1,
            ticks: { stepSize: 1, font: tickFont, color: '#000', padding: 7, maxRotation: 0, includeBounds: false },
            grid: { display: false, drawTicks: false }, border: { display: false },
            afterFit: (s: any) => { s.height = 24; },
          },
          y: {
            type: 'linear', min: -1.03, max: 2.09,
            ticks: { stepSize: 1, font: tickFont, color: '#000', padding: 5, includeBounds: false },
            grid: { display: false, drawTicks: false }, border: { display: false },
            afterFit: (s: any) => { s.width = 48; },
          },
        },
      } as any,
      plugins: [overlay],
    });
    return () => chart.destroy();
  }, []);
  return (
    <canvas ref={ref} width={p.width} height={p.height}
      style={{ position: 'absolute', left: p.left, top: p.top, width: p.width, height: p.height }} />
  );
}

interface BarProps {
  left: number; top: number; width: number; height: number;
  yWidth: number; padTop: number; padRight: number; catPct: number;
  series: { data: number[]; color: string }[];
}

function BarPanel(p: BarProps) {
  const ref = useRef<HTMLCanvasElement>(null);
  useEffect(() => {
    const chart = new Chart(ref.current as HTMLCanvasElement, {
      type: 'bar',
      data: {
        labels: barCategories,
        datasets: p.series.map((s) => ({
          data: s.data, backgroundColor: s.color, borderColor: '#8a8a8a', borderWidth: 1,
          categoryPercentage: p.catPct, barPercentage: 1,
        })),
      },
      options: {
        indexAxis: 'y',
        responsive: false,
        animation: false,
        devicePixelRatio: 1,
        events: [],
        layout: { padding: { top: p.padTop, right: p.padRight, left: 0, bottom: 0 } },
        plugins: { legend: { display: false }, tooltip: { enabled: false } },
        scales: {
          x: {
            type: 'linear', min: 0, max: 100,
            ticks: { stepSize: 50, callback: (v: any) => v + '%', font: { family: FONT, size: 13.5 }, color: '#000', padding: 8, maxRotation: 0 },
            grid: { drawOnChartArea: false, drawTicks: true, tickLength: 4, color: '#9a9a9a' },
            border: { color: '#9a9a9a' },
            afterFit: (s: any) => { s.height = 37; },
          },
          y: {
            ticks: { font: { family: FONT, size: 14 }, color: '#000', padding: 7 },
            grid: { drawOnChartArea: false, drawTicks: true, tickLength: 4, color: '#9a9a9a', offset: true },
            border: { color: '#9a9a9a' },
            afterFit: (s: any) => { s.width = p.yWidth; },
          },
        },
      } as any,
    });
    return () => chart.destroy();
  }, []);
  return (
    <canvas ref={ref} width={p.width} height={p.height}
      style={{ position: 'absolute', left: p.left, top: p.top, width: p.width, height: p.height }} />
  );
}

const abs = (extra: any): any => ({ position: 'absolute', whiteSpace: 'nowrap', lineHeight: 1, ...extra });

function Centered({ x, y, size, bold, italic, rotate, children }: any) {
  return (
    <div style={abs({
      left: x, top: y, fontSize: size, fontWeight: bold ? 'bold' : 'normal', fontStyle: italic ? 'italic' : 'normal',
      transform: `translate(-50%, -50%)${rotate ? ' rotate(-90deg)' : ''}`,
    })}>{children}</div>
  );
}

const Sup = ({ children }: any) => (
  <span style={{ fontSize: 9.5, position: 'relative', top: -5 }}>{children}</span>
);

function AxisTitle({ x, y, rotate, pre, post }: any) {
  return (
    <Centered x={x} y={y} size={14} rotate={rotate}>
      {pre}<Sup>758-798</Sup>{post}
    </Centered>
  );
}

function Legend({ x, y, items }: any) {
  return (
    <>
      {items.map((it: any, i: number) => (
        <div key={i} style={abs({ left: x, top: y + i * 22.6 - 7, height: 14, display: 'flex', alignItems: 'center', fontSize: 13.5 })}>
          <span style={{ display: 'inline-block', width: 6, height: 6, background: it.color, border: '0.5px solid #777', marginRight: 4 }} />
          <span>{it.label}</span>
        </div>
      ))}
    </>
  );
}

function HeaderBox({ left, top, width, height, text }: any) {
  return (
    <div style={abs({
      left, top, width, height, boxSizing: 'border-box', border: '2px solid #a8a8a8',
      display: 'flex', alignItems: 'center', justifyContent: 'center',
      fontSize: 18, fontWeight: 'bold', fontStyle: 'italic',
    })}>{text}</div>
  );
}

export default function App() {
  return (
    <div style={{ position: 'absolute', left: 0, top: 0, width: 1050, height: 892, background: '#fff', fontFamily: FONT, color: '#000', overflow: 'hidden' }}>
      {/* panel a */}
      <div style={abs({ left: 8, top: 55, fontSize: 14, fontWeight: 'bold', fontStyle: 'italic' })}>
        β1 integrin peptides, synthesized (aa 758-798)
      </div>
      {peptideNames.map((n, i) => (
        <React.Fragment key={n}>
          <div style={abs({ left: 8, top: 88 + i * 14.5 - 7, fontSize: 13.5 })}>{n}</div>
          <div style={abs({ left: 123, top: 88 + i * 14.5 - 6.5, fontSize: 13 })}>
            {peptideSeqs[i].split('').map((ch, k) =>
              mutatedPositions[i].includes(k)
                ? <span key={k} style={{ color: '#ff0000', fontWeight: 'bold' }}>{ch}</span>
                : <React.Fragment key={k}>{ch}</React.Fragment>
            )}
          </div>
        </React.Fragment>
      ))}

      {/* headers */}
      <HeaderBox left={1} top={185} width={514} height={28} text="Keratinocytes" />
      <HeaderBox left={534} top={0} width={508} height={29} text="ES cells" />

      {/* charts */}
      <ScatterPanel left={0} top={237} width={512} height={282} cloud={[...bCloud, ...bCore, ...bDense]} cloudColor={BLUE_K}
        names={bNames} xs={bX} ys={bY} offsets={bOffsets} ellipses={bEllipses} />
      <ScatterPanel left={0} top={575} width={513} height={283} cloud={[...cCloud, ...cCore, ...cDense]} cloudColor={BLUE_K}
        names={cNames} xs={cX} ys={cY} offsets={cOffsets} ellipses={cEllipses} />
      <ScatterPanel left={525} top={39} width={506} height={282} cloud={[...dCloud, ...dCore]} cloudColor={BLUE_ES}
        names={dNames} xs={dX} ys={dY} offsets={dOffsets} ellipses={dEllipses} />
      <ScatterPanel left={526} top={359} width={507} height={282} cloud={[...eCloud, ...eCore]} cloudColor={BLUE_ES}
        names={eNames} xs={eX} ys={eY} offsets={eOffsets} ellipses={eEllipses} />

      <BarPanel left={530} top={675} width={260} height={210} yWidth={68} padTop={10} padRight={19} catPct={0.72}
        series={[
          { data: keraTLN1, color: '#000000' },
          { data: keraTLN2, color: '#7f7f7f' },
          { data: keraKIND1, color: '#f4a3a3' },
          { data: keraKIND2, color: '#ff0000' },
        ]} />
      <BarPanel left={790} top={675} width={255} height={210} yWidth={81} padTop={11} padRight={26} catPct={0.56}
        series={[
          { data: esTLN1, color: '#000000' },
          { data: esKIND2, color: '#ff0000' },
        ]} />

      {/* axis titles */}
      <AxisTitle x={15} y={368} rotate pre="log (ratio ß1 wt" post=" / scrambled)" />
      <AxisTitle x={305} y={528} pre="log (ratio ß1 scrambled / wt" post=")" />
      <AxisTitle x={15} y={714} rotate pre="log (ratio ß1 wt" post=" / YYAA)" />
      <AxisTitle x={308} y={868} pre="log (ratio ß1 YYAA / wt" post=")" />
      <AxisTitle x={541} y={170} rotate pre="log (ratio ß1 wt" post=" / scrambled)" />
      <AxisTitle x={827} y={331} pre="log (ratio ß1 scrambled / wt" post=")" />
      <AxisTitle x={541} y={497} rotate pre="log (ratio ß1 wt" post=" / YYAA)" />
      <AxisTitle x={831} y={647} pre="log (ratio ß1 YYAA / wt" post=")" />

      <Centered x={685} y={884} size={14}>% wild-type binding</Centered>
      <Centered x={945} y={884} size={14}>% wild-type binding</Centered>
      <Centered x={667} y={681} size={14} bold italic>Keratinocytes</Centered>
      <Centered x={908} y={681} size={12.5} bold italic>ES cells</Centered>

      <Legend x={742} y={698.5} items={[
        { label: 'TLN1', color: '#000' },
        { label: 'TLN2', color: '#7f7f7f' },
        { label: 'KIND1', color: '#f4a3a3' },
        { label: 'KIND2', color: '#ff0000' },
      ]} />
      <Legend x={962} y={700} items={[
        { label: 'TLN1', color: '#000' },
        { label: 'KIND2', color: '#ff0000' },
      ]} />

      {/* panel letters */}
      <Centered x={10} y={11} size={23} bold>a</Centered>
      <Centered x={10} y={233} size={23} bold>b</Centered>
      <Centered x={9} y={559} size={23} bold>c</Centered>
      <Centered x={536} y={48} size={23} bold>d</Centered>
      <Centered x={535} y={361} size={23} bold>e</Centered>
      <Centered x={540} y={681} size={23} bold>f</Centered>
      <Centered x={815} y={681} size={23} bold>g</Centered>
    </div>
  );
}
